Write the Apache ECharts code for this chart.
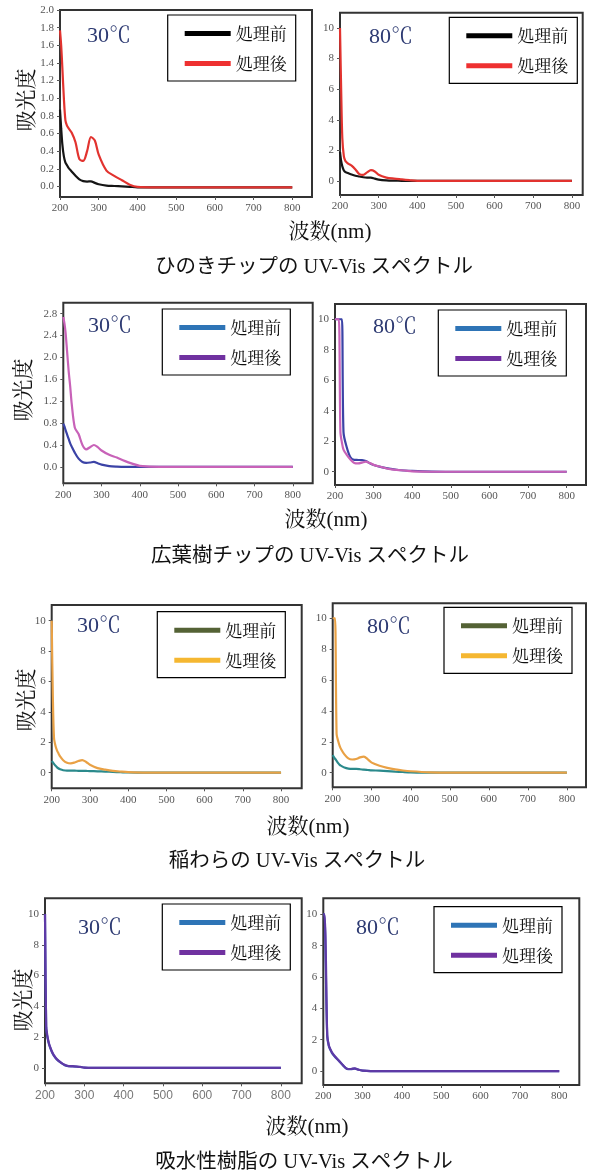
<!DOCTYPE html>
<html>
<head>
<meta charset="utf-8">
<title>UV-Vis スペクトル</title>
<script src="https://cdn.jsdelivr.net/npm/echarts@6/dist/echarts.min.js"></script>
<style>
html, body { margin: 0; padding: 0; background: #fff; }
#chart { width: 595px; height: 1174px; }
</style>
</head>
<body>
<div id="chart"></div>
<script>
// 波長 (nm) - all curves are sampled on this grid
const wavelengths = [200, 203, 206, 210, 214, 218, 222, 230, 240, 250, 260, 270, 280, 290, 300, 320, 340, 360, 380, 400, 450, 500, 600, 700, 800];

const xTicks = [200, 300, 400, 500, 600, 700, 800];
const yTicks20 = [0, 0.2, 0.4, 0.6, 0.8, 1.0, 1.2, 1.4, 1.6, 1.8, 2.0];
const yTicks28 = [0, 0.4, 0.8, 1.2, 1.6, 2.0, 2.4, 2.8];
const yTicks10 = [0, 2, 4, 6, 8, 10];

// ひのきチップ
const hinoki30Before = [0.87, 0.66, 0.48, 0.34, 0.27, 0.24, 0.21, 0.17, 0.12, 0.08, 0.06, 0.055, 0.058, 0.04, 0.025, 0.01, 0.005, 0, -0.005, -0.01, -0.01, -0.01, -0.01, -0.01, -0.01];
const hinoki30After = [1.77, 1.6, 1.35, 1.0, 0.75, 0.69, 0.66, 0.61, 0.5, 0.31, 0.29, 0.4, 0.56, 0.52, 0.36, 0.18, 0.12, 0.07, 0.02, -0.005, -0.01, -0.01, -0.01, -0.01, -0.01];
const hinoki80Before = [1.9, 1.3, 0.95, 0.68, 0.58, 0.54, 0.5, 0.42, 0.34, 0.29, 0.24, 0.22, 0.22, 0.15, 0.09, 0.04, 0.02, 0.01, 0, 0, 0, 0, 0, 0, 0];
const hinoki80After = [10, 6, 2.8, 1.6, 1.3, 1.2, 1.12, 1.0, 0.75, 0.45, 0.4, 0.56, 0.7, 0.62, 0.4, 0.22, 0.15, 0.1, 0.05, 0.01, 0, 0, 0, 0, 0];

// 広葉樹チップ
const broadleaf30Before = [0.79, 0.74, 0.67, 0.59, 0.51, 0.43, 0.37, 0.26, 0.15, 0.09, 0.075, 0.08, 0.09, 0.065, 0.04, 0.015, 0.005, 0, 0, 0, 0, 0, 0, 0, 0];
const broadleaf30After = [2.74, 2.62, 2.45, 2.1, 1.75, 1.47, 1.15, 0.72, 0.6, 0.4, 0.32, 0.36, 0.4, 0.36, 0.3, 0.22, 0.17, 0.11, 0.06, 0.02, 0, 0, 0, 0, 0];
const broadleaf80Before = [10, 10, 10, 10, 10, 10, 2.6, 1.64, 0.95, 0.78, 0.77, 0.76, 0.7, 0.56, 0.44, 0.3, 0.2, 0.13, 0.08, 0.05, 0.01, 0, 0, 0, 0];
const broadleaf80After = [10, 10, 10, 10, 2.6, 1.9, 1.45, 1.12, 0.8, 0.58, 0.55, 0.6, 0.66, 0.57, 0.45, 0.31, 0.18, 0.12, 0.08, 0.03, 0, 0, 0, 0, 0];

// 稲わら
const straw30Before = [0.77, 0.68, 0.58, 0.46, 0.35, 0.27, 0.22, 0.16, 0.13, 0.13, 0.13, 0.12, 0.12, 0.11, 0.1, 0.09, 0.07, 0.05, 0.03, 0.01, 0, 0, 0, 0, 0];
const straw30After = [10, 5, 2.3, 1.75, 1.45, 1.25, 1.07, 0.82, 0.65, 0.61, 0.67, 0.77, 0.83, 0.7, 0.52, 0.3, 0.2, 0.12, 0.07, 0.03, 0, 0, 0, 0, 0];
const straw80Before = [1.14, 1.0, 0.9, 0.76, 0.62, 0.5, 0.44, 0.33, 0.26, 0.24, 0.24, 0.22, 0.19, 0.17, 0.15, 0.13, 0.1, 0.065, 0.04, 0.02, 0, 0, 0, 0, 0];
const straw80After = [10, 10, 10, 2.5, 2.05, 1.72, 1.5, 1.18, 0.92, 0.85, 0.88, 0.99, 1.04, 0.86, 0.65, 0.45, 0.31, 0.21, 0.14, 0.09, 0.02, 0, 0, 0, 0];

// 吸水性樹脂
const resin30Before = [10, 2.6, 2.0, 1.55, 1.25, 1.0, 0.82, 0.55, 0.34, 0.18, 0.11, 0.1, 0.08, 0.06, 0.02, 0, 0, 0, 0, 0, 0, 0, 0, 0, 0];
const resin30After = [10, 2.7, 2.1, 1.6, 1.3, 1.05, 0.85, 0.58, 0.36, 0.2, 0.12, 0.11, 0.09, 0.065, 0.02, 0, 0, 0, 0, 0, 0, 0, 0, 0, 0];
const resin80Before = [10, 10, 7, 2.2, 1.6, 1.35, 1.15, 0.9, 0.64, 0.36, 0.14, 0.12, 0.16, 0.08, 0.03, 0, 0, 0, 0, 0, 0, 0, 0, 0, 0];
const resin80After = [10, 10, 8, 2.3, 1.65, 1.4, 1.2, 0.93, 0.66, 0.38, 0.15, 0.13, 0.17, 0.08, 0.03, 0, 0, 0, 0, 0, 0, 0, 0, 0, 0];

const captions = ['ひのきチップの UV-Vis スペクトル', '広葉樹チップの UV-Vis スペクトル', '稲わらの UV-Vis スペクトル', '吸水性樹脂の UV-Vis スペクトル'];

const serifFont = "'Liberation Serif', 'Noto Serif CJK JP', 'Noto Sans CJK JP', serif";
const mincho = "'Noto Serif CJK JP', 'Noto Sans CJK JP', serif";
const gothic = "'Liberation Serif', 'Noto Sans CJK JP', sans-serif";

const blackRed = { line: ['#151515', '#e2332f'], legend: ['#000000', '#ee3030'] };
const bluePink = { line: ['#3b43a6', '#c862b8'], legend: ['#2e74b6', '#7031a0'] };
const tealOrange = { line: ['#2b8a8c', '#e9a145'], legend: ['#546235', '#f5b731'] };
const bluePurple = { line: ['#3d4fb0', '#5e3aa6'], legend: ['#2e74b6', '#7031a0'] };

const panels = [
  { temp: '30℃', before: hinoki30Before, after: hinoki30After, box: [60, 10, 252, 187], xMax: 851, yMin: -0.12, yMax: 2.0, yTicks: yTicks20, digits: 1, colors: blackRed, legend: [167.7, 15], tempPos: [87, 36] },
  { temp: '80℃', before: hinoki80Before, after: hinoki80After, box: [340, 12.7, 242.7, 182.3], xMax: 828, yMin: -0.92, yMax: 11.0, yTicks: yTicks10, digits: 0, colors: blackRed, legend: [449.3, 17.3], tempPos: [369, 37] },
  { temp: '30℃', before: broadleaf30Before, after: broadleaf30After, box: [63.3, 302.7, 249.4, 180.6], xMax: 852, yMin: -0.3, yMax: 3.0, yTicks: yTicks28, digits: 1, colors: bluePink, legend: [162.3, 309], tempPos: [88, 326] },
  { temp: '80℃', before: broadleaf80Before, after: broadleaf80After, box: [335, 304, 251, 181], xMax: 850, yMin: -0.87, yMax: 11.0, yTicks: yTicks10, digits: 0, colors: bluePink, legend: [438.3, 310], tempPos: [373, 327] },
  { temp: '30℃', before: straw30Before, after: straw30After, box: [51.7, 605, 250, 183.3], xMax: 854, yMin: -1.03, yMax: 11.03, yTicks: yTicks10, digits: 0, colors: tealOrange, legend: [157.3, 611.7], tempPos: [77, 626] },
  { temp: '80℃', before: straw80Before, after: straw80After, box: [332.7, 603.3, 253.3, 184], xMax: 849, yMin: -0.95, yMax: 10.97, yTicks: yTicks10, digits: 0, colors: tealOrange, legend: [444, 607.3], tempPos: [367, 627] },
  { temp: '30℃', before: resin30Before, after: resin30After, box: [45, 898.3, 256.7, 185], xMax: 853, yMin: -1.0, yMax: 11.02, yTicks: yTicks10, digits: 0, colors: bluePurple, legend: [162.3, 904], tempPos: [78, 928], sansX: true },
  { temp: '80℃', before: resin80Before, after: resin80After, box: [323.3, 898.3, 256, 186.7], xMax: 851, yMin: -0.89, yMax: 11.02, yTicks: yTicks10, digits: 0, colors: bluePurple, legend: [434, 906.7], tempPos: [356, 928] }
];

// per row: 吸光度 centre, 波数(nm) centre, caption centre
const rowText = [
  { yName: [25, 100], xName: [330, 232], caption: [314, 268] },
  { yName: [22.5, 390], xName: [326, 520], caption: [310, 557] },
  { yName: [25, 700], xName: [308, 827], caption: [297, 862] },
  { yName: [22, 1000], xName: [307, 1127], caption: [304, 1163] }
];

function pairs(values) {
  return wavelengths.map((w, k) => [w, values[k]]);
}

const grid = [], xAxis = [], yAxis = [], legend = [], series = [], texts = [];

panels.forEach((p, i) => {
  grid.push({
    left: p.box[0], top: p.box[1], width: p.box[2], height: p.box[3],
    show: true, borderColor: '#333', borderWidth: 2, backgroundColor: '#fff', containLabel: false
  });
  xAxis.push({
    type: 'value', gridIndex: i, min: 200, max: p.xMax,
    axisLine: { show: false, onZero: false },
    axisTick: { show: true, length: 3, customValues: xTicks, lineStyle: { color: '#555' } },
    axisLabel: {
      customValues: xTicks, margin: 6,
      color: p.sansX ? '#777' : '#555',
      fontSize: p.sansX ? 12 : 11,
      fontFamily: p.sansX ? "'Liberation Sans', Arial, sans-serif" : serifFont
    },
    splitLine: { show: false }
  });
  yAxis.push({
    type: 'value', gridIndex: i, min: p.yMin, max: p.yMax,
    axisLine: { show: false, onZero: false },
    axisTick: { show: true, length: 3, customValues: p.yTicks, lineStyle: { color: '#555' } },
    axisLabel: {
      customValues: p.yTicks, margin: 6, color: '#555', fontSize: 11, fontFamily: serifFont,
      formatter: v => Number(v).toFixed(p.digits)
    },
    splitLine: { show: false }
  });
  legend.push({
    orient: 'vertical', left: p.legend[0], top: p.legend[1],
    data: [
      { name: '処理前', icon: 'rect', itemStyle: { color: p.colors.legend[0], borderWidth: 0 } },
      { name: '処理後', icon: 'rect', itemStyle: { color: p.colors.legend[1], borderWidth: 0 } }
    ],
    itemWidth: 46, itemHeight: 5, itemGap: 13, itemTextGap: 10,
    padding: [10, 9, 9, 17],
    borderColor: '#000', borderWidth: 1.2, backgroundColor: '#fff',
    selectedMode: false,
    itemStyle: { borderWidth: 0 },
    textStyle: { fontSize: 17, color: '#111', fontFamily: mincho }
  });
  [['処理前', p.before, p.colors.line[0]], ['処理後', p.after, p.colors.line[1]]].forEach(([name, vals, color]) => {
    series.push({
      type: 'line', name: name, xAxisIndex: i, yAxisIndex: i,
      data: pairs(vals),
      symbol: 'none', showSymbol: false, smooth: 0.3,
      lineStyle: { width: 2.2, color: color },
      itemStyle: { color: color }
    });
  });
  texts.push({
    type: 'text', x: p.tempPos[0], y: p.tempPos[1], z: 10, silent: true,
    style: { text: p.temp, fill: '#2d3a72', fontSize: 22, fontFamily: serifFont, align: 'left', verticalAlign: 'middle', textAlign: 'left', textVerticalAlign: 'middle' }
  });
});

rowText.forEach((r, k) => {
  texts.push({
    type: 'text', x: r.yName[0], y: r.yName[1], rotation: Math.PI / 2, silent: true,
    style: { text: '吸光度', fill: '#111', fontSize: 21, fontFamily: mincho, align: 'center', verticalAlign: 'middle', textAlign: 'center', textVerticalAlign: 'middle' }
  });
  texts.push({
    type: 'text', x: r.xName[0], y: r.xName[1], silent: true,
    style: { text: '波数(nm)', fill: '#111', fontSize: 21, fontFamily: serifFont, align: 'center', verticalAlign: 'middle', textAlign: 'center', textVerticalAlign: 'middle' }
  });
  texts.push({
    type: 'text', x: r.caption[0], y: r.caption[1], silent: true,
    style: { text: captions[k], fill: '#111', fontSize: 20.5, fontFamily: gothic, align: 'center', verticalAlign: 'middle', textAlign: 'center', textVerticalAlign: 'middle' }
  });
});

const chart = echarts.init(document.getElementById('chart'), null, { renderer: 'canvas' });
chart.setOption({
  animation: false,
  backgroundColor: '#fff',
  grid: grid,
  xAxis: xAxis,
  yAxis: yAxis,
  legend: legend,
  series: series,
  graphic: { elements: texts }
});
</script>
</body>
</html>
